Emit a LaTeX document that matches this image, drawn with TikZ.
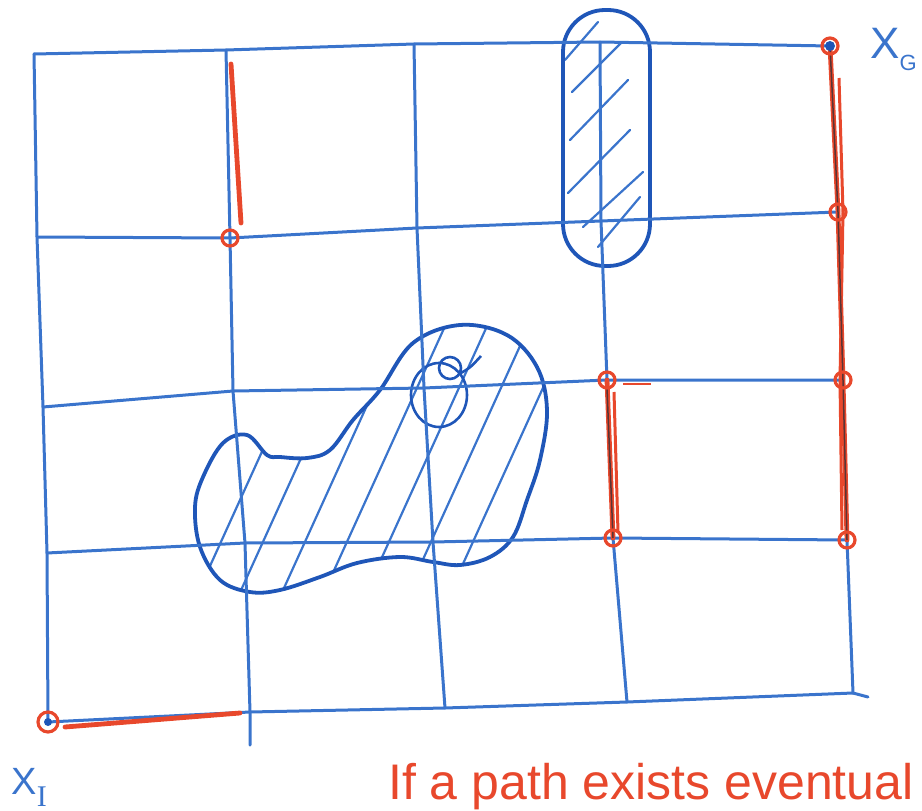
\documentclass[tikz,border=0pt]{standalone}
\usepackage{fontspec}
\setmainfont{Liberation Sans}
\newfontfamily\penserif{Liberation Serif}
\usetikzlibrary{calc}
\definecolor{penblue}{HTML}{3A74CC}
\definecolor{inkblue}{HTML}{1F56B8}
\definecolor{penred}{HTML}{E8482C}
\definecolor{penbrown}{HTML}{5A3434}

\begin{document}
\begin{tikzpicture}[x=1pt,y=-1pt,
    gridline/.style={penblue,line width=3pt,line join=round,line cap=round},
    hatch/.style={penblue,line width=2.2pt,line cap=round},
    outline/.style={inkblue,line width=3.8pt},
    redpath/.style={penred,line width=4.8pt,line cap=round},
    visited/.style={penred,line width=3.2pt}]
    \useasboundingbox (0,0) rectangle (922,811);
    \clip (0,0) rectangle (922,811);
    \foreach \n/\x/\y in {00/34/54, 01/226/50, 02/414/44, 03/600/42, 04/830/46,
        10/37/237, 11/230/238, 12/417/228, 13/601/221, 14/838/212,
        20/43/407, 21/233/391, 22/424/388, 23/607/380, 24/843/380,
        30/47/553, 31/245/543, 32/433/542, 33/613/538, 34/847/540,
        40/48/722, 41/250/712, 42/445/708, 43/627/702, 44/853/693}
      \coordinate (p\n) at (\x,\y);
    \begin{scope}
      \clip[rounded corners=42pt] (563,10) rectangle (650,266);
      \foreach \xa/\ya/\xb/\yb in {565/60/598/22, 572/92/622/42, 570/140/628/80,
          568/193/630/130, 583/227/643/172, 598/247/640/197}
        \draw[hatch] (\xa,\ya) -- (\xb,\yb);
    \end{scope}
    \draw[outline] [rounded corners=42pt] (563,10) rectangle (650,266);
    \begin{scope}
      \clip plot[smooth cycle,tension=0.6] coordinates {(267,455) (247,435) (223,443) (203,477)
        (195,507) (200,547) (220,580) (250,592) (280,590) (320,577) (357,563) (400,557)
        (433,562) (460,565) (490,557) (513,537) (527,500) (540,460) (547,410) (537,367)
        (507,335) (460,325) (413,343) (380,390) (353,420) (330,450) (307,458) (280,457)};
      \foreach \x in {190,232,...,540} \draw[hatch] (\x,610) -- ++(150,-330);
    \end{scope}
    \draw[outline] plot[smooth cycle,tension=0.6] coordinates {(267,455) (247,435) (223,443) (203,477)
        (195,507) (200,547) (220,580) (250,592) (280,590) (320,577) (357,563) (400,557)
        (433,562) (460,565) (490,557) (513,537) (527,500) (540,460) (547,410) (537,367)
        (507,335) (460,325) (413,343) (380,390) (353,420) (330,450) (307,458) (280,457)};
    \draw[inkblue,line width=2.6pt] (439,395) ellipse[x radius=28,y radius=32];
    \draw[inkblue,line width=2.6pt] (450,368) circle[radius=11] (459,374) .. controls (470,368) .. (481,356);
    \foreach \r in {0,...,4} \draw[gridline] (p\r0) -- (p\r1) -- (p\r2) -- (p\r3) -- (p\r4);
    \foreach \c in {0,...,4} \draw[gridline] (p0\c) -- (p1\c) -- (p2\c) -- (p3\c) -- (p4\c);
    \draw[gridline] (p41) -- (250,745) (p44) -- (868,697);
    \draw[redpath] ($(p01)+(5,14)$) -- ($(p11)+(11,-15)$);
    \draw[visited] (p11) circle[radius=8];
    \draw[redpath] ($(p40)+(17,5)$) -- ($(p41)+(-10,1)$);
    \draw[visited] (p40) circle[radius=10];
    \fill[inkblue] (p40) circle[radius=4];
    \draw[redpath] (p04) -- (p14) -- (p24) -- (p34);
    \draw[penred,line width=3pt] ($(p04)+(9,32)$) -- ($(p14)+(5,0)$) -- ($(p24)+(-3,0)$) -- ($(p34)+(-5,-10)$);
    \draw[penbrown,line width=1.5pt] (p04) -- (p14) -- (p24) -- (p34);
    \foreach \p in {p04,p14,p24,p34} \draw[visited] (\p) circle[radius=8];
    \fill[inkblue] (p04) circle[radius=5];
    \draw[redpath] (p23) -- (p33);
    \draw[penred,line width=3pt] ($(p23)+(7,12)$) -- ($(p33)+(5,-6)$);
    \draw[penbrown,line width=1.5pt] ($(p23)+(0,8)$) -- (p33);
    \foreach \p in {p23,p33} \draw[visited] (\p) circle[radius=8];
    \draw[penred,line width=1.5pt] ($(p23)+(16,4)$) -- ++(28,0);
    \node[anchor=base west,text=penblue,inner sep=0pt,font=\fontsize{44}{44}\selectfont] (goal) at (870,58)
      {X\raisebox{-12pt}{\fontsize{22}{22}\selectfont G}};
    \node[anchor=base west,text=penblue,font=\fontsize{38}{38}\selectfont] (start) at (8,794)
      {X\raisebox{-12pt}{\penserif\fontsize{30}{30}\selectfont I}};
    \node[anchor=base west,text=penred,inner sep=0pt,font=\fontsize{50}{50}\selectfont] (note) at (388,799)
      {If a path exists eventual};
\end{tikzpicture}
\end{document}
